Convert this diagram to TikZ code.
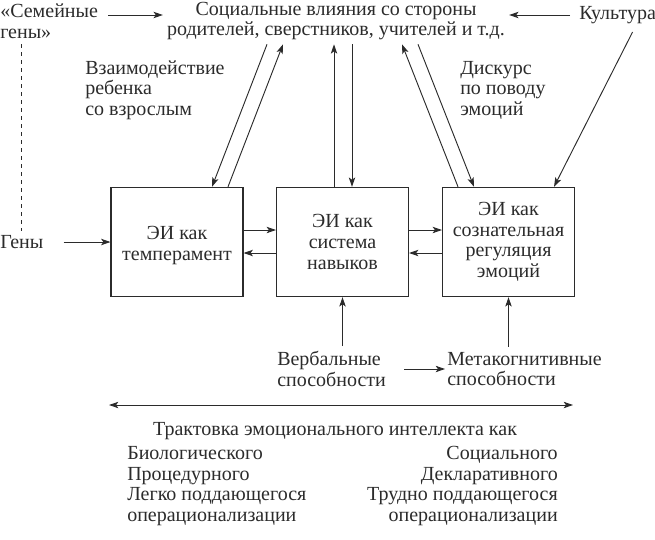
\documentclass[tikz,border=0pt]{standalone}
\usepackage{fontspec}
\setmainfont{Liberation Serif}
\usetikzlibrary{positioning,calc,arrows.meta}
\definecolor{ink}{HTML}{2B2B2B}

\begin{document}
\begin{tikzpicture}[
  x=0.75pt,
  y=-0.75pt,
  font=\fontsize{15pt}{15.4pt}\selectfont,
  every node/.style={text=ink, inner sep=0pt},
  txt/.style={align=left},
  box/.style={draw=ink, line width=0.8pt, align=center, minimum width=99pt, minimum height=82pt},
  arr/.style={-{Stealth[length=7pt,width=4.8pt,inset=1.7pt]}, draw=ink, line width=0.7pt},
  bidi/.style={{Stealth[length=7pt,width=4.8pt,inset=1.7pt]}-{Stealth[length=7pt,width=4.8pt,inset=1.7pt]}, draw=ink, line width=0.7pt}
]

\useasboundingbox (0,0) rectangle (655,539);

% top row
\node[txt, anchor=west] (fam) at (0,21) {«Семейные\\гены»};
\node[align=center, inner sep=3pt] (soc) at (336,21) {Социальные влияния со стороны\\родителей, сверстников, учителей и т.д.};
\node[anchor=west] (cult) at (579,15) {Культура};

\node[txt, anchor=west] (inter) at (85,90) {Взаимодействие\\ребенка\\со взрослым};
\node[txt, anchor=west] (disc) at (460,90) {Дискурс\\по поводу\\эмоций};

% boxes
\node[anchor=west] (genes) at (0,242) {Гены};
\node[box] (temp) at (177,242) {\rule{0pt}{15pt}ЭИ как\\темперамент};
\node[box] (skill) at (342.5,242) {ЭИ как\\система\\навыков};
\node[box] (regul) at (508.5,242) {ЭИ как\\сознательная\\регуляция\\эмоций};

\node[txt, anchor=west] (verb) at (277,369) {Вербальные\\способности};
\node[txt, anchor=west] (meta) at (447,369) {Метакогнитивные\\способности};

% bottom
\coordinate (spanL) at (109,405);
\coordinate (spanR) at (573,405);
\node (treat) at (335,431) {Трактовка эмоционального интеллекта как};
\node[txt, anchor=west] (bio) at (127,486) {Биологического\\Процедурного\\Легко поддающегося\\операционализации};
\node[align=right, anchor=east] (socl) at (558,486) {Социального\\Декларативного\\Трудно поддающегося\\операционализации};

\draw[arr] ($(fam.east)+(10,-6)$) -- ($(soc.west)+(0,-6)$);
\draw[arr] ($(cult.west)+(-9,0)$) -- ($(soc.east)+(0,-6)$);
\draw[dashed, draw=ink, line width=0.6pt] ($(genes.north |- fam.south)+(0,6)$) -- ($(genes.north)+(0,-4)$);

\draw[arr] ($(soc.south)+(-69,0)$) -- ($(temp.north)+(35,0)$);
\draw[arr] ($(temp.north)+(51,0)$) -- ($(soc.south)+(-53,0)$);
\draw[arr] ($(skill.north)+(-8.5,0)$) -- ($(soc.south)+(-2,0)$);
\draw[arr] ($(soc.south)+(16,0)$) -- ($(skill.north)+(9.5,0)$);
\draw[arr] ($(regul.north)+(-50.5,0)$) -- ($(soc.south)+(66,0)$);
\draw[arr] ($(soc.south)+(82,0)$) -- ($(regul.north)+(-34.5,0)$);
\draw[arr] ($(cult.south)+(15,8)$) -- ($(regul.north)+(45.5,0)$);

\draw[arr] ($(genes.east)+(20,0)$) -- (temp.west);
\draw[arr] ($(temp.east)+(0,-12)$) -- ($(skill.west)+(0,-12)$);
\draw[arr] ($(skill.west)+(0,11)$) -- ($(temp.east)+(0,11)$);
\draw[arr] ($(skill.east)+(0,-12)$) -- ($(regul.west)+(0,-12)$);
\draw[arr] ($(regul.west)+(0,11)$) -- ($(skill.east)+(0,11)$);

\draw[arr] ($(verb.north -| skill.south)+(0,-5)$) -- (skill.south);
\draw[arr] ($(meta.north -| regul.south)+(0,-5)$) -- (regul.south);
\draw[arr] ($(verb.east)+(18,0)$) -- ($(meta.west)+(-2,0)$);

\draw[bidi] (spanL) -- (spanR);

\end{tikzpicture}
\end{document}
